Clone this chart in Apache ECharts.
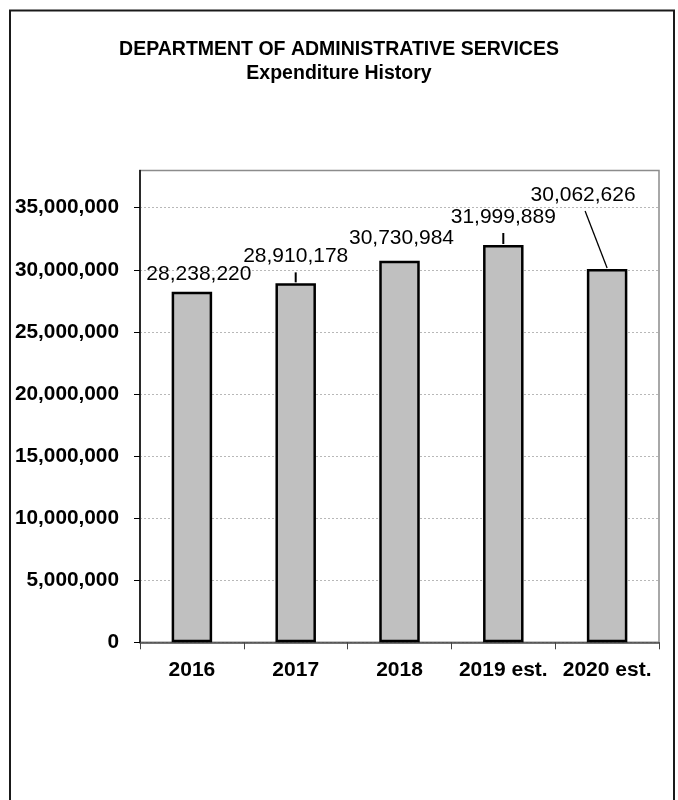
<!DOCTYPE html>
<html>
<head>
<meta charset="utf-8">
<script src="https://cdn.jsdelivr.net/npm/echarts@6/dist/echarts.min.js"></script>
<style>
  html, body { margin: 0; padding: 0; background: #fff; }
  #chart { width: 678px; height: 800px; }
</style>
</head>
<body>
<div id="chart"></div>
<script>
// Expenditure history, Department of Administrative Services
const years = ['2016', '2017', '2018', '2019 est.', '2020 est.'];
const expenditures = [28238220, 28910178, 30730984, 31999889, 30062626];
const yTickValues = [0, 5000000, 10000000, 15000000, 20000000, 25000000, 30000000, 35000000];

// Label placement (pixels from the top centre of each bar) and which labels get a leader line
const labelNudge = [[7, -17], [0, -27], [2, -23], [0, -28], [-24, -74]];
const hasLeader = [false, true, false, true, true];

const FONT = '"Liberation Sans", Arial, Helvetica, sans-serif';
const fmt = v => Math.round(v).toLocaleString('en-US');

const chart = echarts.init(document.getElementById('chart'), null, { renderer: 'canvas' });

chart.setOption({
  backgroundColor: '#ffffff',
  animation: false,
  title: {
    text: 'DEPARTMENT OF ADMINISTRATIVE SERVICES\nExpenditure History',
    left: 'center',
    top: 33,
    textStyle: {
      fontFamily: FONT,
      fontWeight: 'bold',
      fontSize: 19.5,
      lineHeight: 24,
      color: '#000'
    }
  },
  graphic: [{
    type: 'rect',
    shape: { x: 10, y: 10.5, width: 664, height: 800 },
    style: { fill: null, stroke: '#1a1a1a', lineWidth: 2 },
    silent: true,
    z: 100
  }],
  grid: {
    left: 140,
    right: 19,
    top: 170.5,
    bottom: 157.7,
    show: true,
    borderColor: '#8c8c8c',
    borderWidth: 1.5,
    backgroundColor: '#fff',
    containLabel: false
  },
  xAxis: {
    type: 'category',
    data: years,
    boundaryGap: true,
    axisLine: { show: true, lineStyle: { color: '#444', width: 1.5 } },
    axisTick: { show: true, length: 7, alignWithLabel: false, lineStyle: { color: '#444', width: 1 } },
    axisLabel: {
      margin: 17,
      fontFamily: FONT,
      fontWeight: 'bold',
      fontSize: 21,
      color: '#000',
      interval: 0
    },
    splitLine: { show: false }
  },
  yAxis: {
    type: 'value',
    min: 0,
    max: 38000000,
    interval: 5000000,
    axisLine: { show: true, lineStyle: { color: '#000', width: 1.5 } },
    axisTick: { show: true, length: 6, customValues: yTickValues, lineStyle: { color: '#000', width: 1 } },
    axisLabel: {
      margin: 21,
      customValues: yTickValues,
      fontFamily: FONT,
      fontWeight: 'bold',
      fontSize: 20.8,
      color: '#000',
      formatter: v => fmt(v)
    },
    splitLine: {
      show: true,
      lineStyle: { color: '#b8b8b8', width: 1, type: [2, 2] }
    }
  },
  series: [
    {
      type: 'bar',
      data: expenditures.map((v, i) => ({
        value: v,
        label: { offset: labelNudge[i] }
      })),
      barWidth: '39%',
      itemStyle: {
        color: '#c0c0c0',
        borderColor: '#000',
        borderWidth: 2.5
      },
      label: {
        show: true,
        position: ['50%', 0],
        align: 'center',
        verticalAlign: 'middle',
        fontFamily: FONT,
        fontSize: 21,
        color: '#000',
        formatter: p => fmt(p.value)
      },
      z: 2
    },
    {
      // leader lines from bar tops to the moved value labels
      type: 'custom',
      silent: true,
      z: 3,
      data: expenditures.map((v, i) => [i, v]),
      renderItem: (params, api) => {
        const i = params.dataIndex;
        if (!hasLeader[i]) return null;
        const top = api.coord([api.value(0), api.value(1)]);
        const nudge = labelNudge[i];
        const endX = top[0] + nudge[0] + (nudge[0] !== 0 ? 2 : 0);
        const endY = top[1] + nudge[1] + 16;
        return {
          type: 'line',
          shape: { x1: top[0], y1: top[1] - 1, x2: endX, y2: endY },
          style: { stroke: '#000', lineWidth: nudge[0] !== 0 ? 1.3 : 2 }
        };
      }
    }
  ]
});
</script>
</body>
</html>
